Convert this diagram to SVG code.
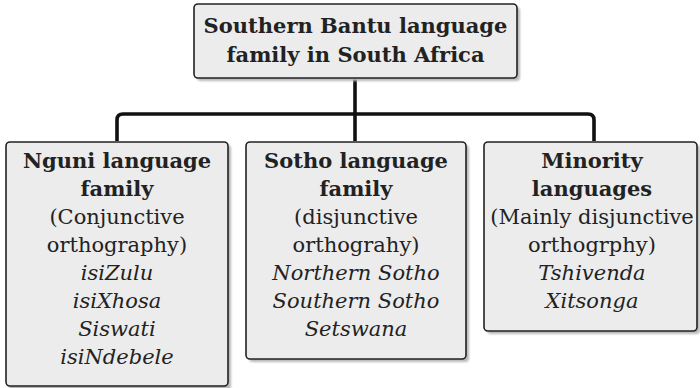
<svg xmlns="http://www.w3.org/2000/svg" width="700" height="388" viewBox="0 0 700 388">
<defs>
<filter id="sh" x="-5%" y="-5%" width="115%" height="115%">
<feGaussianBlur stdDeviation="1"/>
</filter>
</defs>
<style>
.box{fill:#ececec;stroke:#222;stroke-width:1.6}
.shadow{fill:#b8b8b8;filter:url(#sh)}
text{font-family:"DejaVu Serif","Liberation Serif",serif;font-size:21px;fill:#222;text-anchor:middle}
.b{font-weight:bold}
.i{font-style:italic}
.conn{fill:none;stroke:#111;stroke-width:3.6;stroke-linejoin:round}
</style>
<g id="connectors">
<path class="conn" d="M355,78 V141"/>
<path class="conn" d="M117,141 V120 Q117,114 123,114 H588 Q594,114 594,120 V141"/>
</g>
<g id="root">
<rect class="shadow" x="197" y="7" width="323" height="74" rx="4"/>
<rect class="box" x="194" y="4" width="323" height="74" rx="4"/>
<text class="b" x="355.5" y="33">Southern Bantu language</text>
<text class="b" x="355.5" y="62">family in South Africa</text>
</g>
<g id="nguni">
<rect class="shadow" x="9" y="145" width="222" height="245" rx="4"/>
<rect class="box" x="6" y="142" width="222" height="244" rx="4"/>
<text class="b" x="117" y="168">Nguni language</text>
<text class="b" x="117" y="196">family</text>
<text x="117" y="224">(Conjunctive</text>
<text x="117" y="252">orthography)</text>
<text class="i" x="117" y="280">isiZulu</text>
<text class="i" x="117" y="308">isiXhosa</text>
<text class="i" x="117" y="336">Siswati</text>
<text class="i" x="117" y="364">isiNdebele</text>
</g>
<g id="sotho">
<rect class="shadow" x="249" y="145" width="220" height="217" rx="4"/>
<rect class="box" x="246" y="142" width="220" height="217" rx="4"/>
<text class="b" x="356" y="168">Sotho language</text>
<text class="b" x="356" y="196">family</text>
<text x="356" y="224">(disjunctive</text>
<text x="356" y="252">orthograhy)</text>
<text class="i" x="356" y="280">Northern Sotho</text>
<text class="i" x="356" y="308">Southern Sotho</text>
<text class="i" x="356" y="336">Setswana</text>
</g>
<g id="minority">
<rect class="shadow" x="487" y="145" width="213" height="189" rx="4"/>
<rect class="box" x="484" y="142" width="213" height="189" rx="4"/>
<text class="b" x="592" y="168">Minority</text>
<text class="b" x="592" y="196">languages</text>
<text x="592" y="224">(Mainly disjunctive</text>
<text x="592" y="252">orthogrphy)</text>
<text class="i" x="592" y="280">Tshivenda</text>
<text class="i" x="592" y="308">Xitsonga</text>
</g>
</svg>
